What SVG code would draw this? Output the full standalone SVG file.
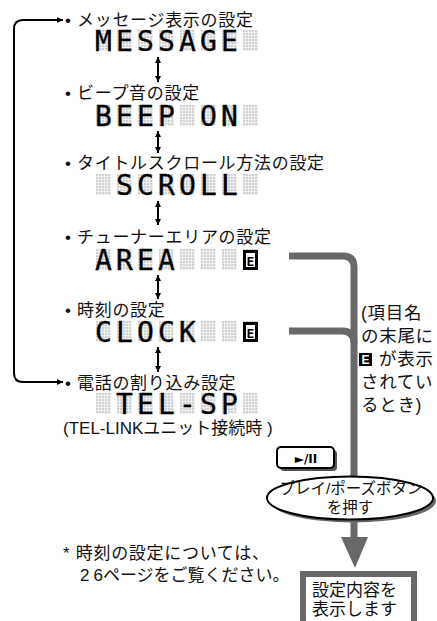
<svg xmlns="http://www.w3.org/2000/svg" width="437" height="621" viewBox="0 0 437 621">
<style>
.jp{font-family:"Liberation Sans","Noto Sans CJK JP",sans-serif;font-size:17px;fill:#111;}
.ls{letter-spacing:0.7px;}
.lcd{font-family:"DejaVu Sans Mono",monospace;font-size:28px;fill:#000;text-anchor:middle;stroke:#000;stroke-width:0.3px;}
.cell{fill:url(#px);}
.thin{stroke:#000;stroke-width:2;fill:none;}
.gray{stroke:#686868;stroke-width:7;fill:none;}
.ico{font-family:"DejaVu Sans Mono",monospace;font-weight:bold;font-size:13px;text-anchor:middle;}
</style>
<defs>
<pattern id="px" x="0" y="0" width="3" height="3" patternUnits="userSpaceOnUse">
<rect x="0" y="0" width="2.4" height="2.4" fill="#d2d2d2"/>
</pattern>
<marker id="ah" viewBox="0 0 10 10" refX="10" refY="5" markerWidth="7" markerHeight="6" markerUnits="userSpaceOnUse" orient="auto-start-reverse">
<path d="M0,0 L10,5 L0,10 Z" fill="#000"/>
</marker>
<g id="cells8">
<rect class="cell" x="96" y="0" width="15" height="21"/>
<rect class="cell" x="117" y="0" width="15" height="21"/>
<rect class="cell" x="138" y="0" width="15" height="21"/>
<rect class="cell" x="159" y="0" width="15" height="21"/>
<rect class="cell" x="180" y="0" width="15" height="21"/>
<rect class="cell" x="201" y="0" width="15" height="21"/>
<rect class="cell" x="222" y="0" width="15" height="21"/>
<rect class="cell" x="243" y="0" width="15" height="21"/>
</g>
</defs>
<rect width="437" height="621" fill="#fff"/>

<g id="connectors">
<path class="thin" d="M63,20 H23 Q14,20 14,29 V373 Q14,382 23,382 H63" marker-start="url(#ah)" marker-end="url(#ah)"/>
<line class="thin" x1="158" y1="57" x2="158" y2="82" marker-start="url(#ah)" marker-end="url(#ah)"/>
<line class="thin" x1="158" y1="131" x2="158" y2="153" marker-start="url(#ah)" marker-end="url(#ah)"/>
<line class="thin" x1="158" y1="201" x2="158" y2="225" marker-start="url(#ah)" marker-end="url(#ah)"/>
<line class="thin" x1="158" y1="275" x2="158" y2="299" marker-start="url(#ah)" marker-end="url(#ah)"/>
<line class="thin" x1="158" y1="347" x2="158" y2="372" marker-start="url(#ah)" marker-end="url(#ah)"/>
<path class="gray" d="M289,256 H343 Q354,256 354,267 V540"/>
<path class="gray" d="M289,331 H342 Q354,331 354,343"/>
<polygon points="341,537 368,537 355,568" fill="#686868"/>
</g>

<g id="n-message">
<text class="jp ls" y="26"><tspan x="65">•</tspan><tspan x="77">メッセージ表示の設定</tspan></text>
<use href="#cells8" y="30"/>
<text class="lcd" x="103.5 124.5 145.5 166.5 187.5 208.5 229.5" y="51">MESSAGE</text>
</g>

<g id="n-beep">
<text class="jp ls" y="99"><tspan x="65">•</tspan><tspan x="77">ビープ音の設定</tspan></text>
<use href="#cells8" y="105"/>
<text class="lcd" x="103.5 124.5 145.5 166.5 187.5 208.5 229.5" y="126">BEEP ON</text>
</g>

<g id="n-scroll">
<text class="jp ls" y="169"><tspan x="65">•</tspan><tspan x="77">タイトルスクロール方法の設定</tspan></text>
<use href="#cells8" y="174"/>
<text class="lcd" x="124.5 145.5 166.5 187.5 208.5 229.5" y="195">SCROLL</text>
</g>

<g id="n-area">
<text class="jp ls" y="243"><tspan x="65">•</tspan><tspan x="77">チューナーエリアの設定</tspan></text>
<use href="#cells8" y="249"/>
<text class="lcd" x="103.5 124.5 145.5 166.5" y="270">AREA</text>
<rect x="244.5" y="251.5" width="12" height="17" fill="#fff" stroke="#000" stroke-width="3"/>
<text class="ico" x="250.5" y="266">E</text>
</g>

<g id="n-clock">
<text class="jp ls" y="316"><tspan x="65">•</tspan><tspan x="77">時刻の設定</tspan></text>
<use href="#cells8" y="321"/>
<text class="lcd" x="103.5 124.5 145.5 166.5 187.5" y="342">CLOCK</text>
<rect x="244.5" y="323.5" width="12" height="17" fill="#fff" stroke="#000" stroke-width="3"/>
<text class="ico" x="250.5" y="338">E</text>
</g>

<g id="n-tel">
<text class="jp ls" y="389"><tspan x="65">•</tspan><tspan x="77">電話の割り込み設定</tspan></text>
<use href="#cells8" y="393"/>
<text class="lcd" x="124.5 145.5 166.5 187.5 208.5 229.5" y="414">TEL-SP</text>
<text class="jp" x="63" y="434">(TEL-LINKユニット接続時 )</text>
</g>

<g id="n-note">
<text class="jp ls" x="361" y="319" style="font-size:17.5px">(項目名</text>
<text class="jp ls" x="361" y="342" style="font-size:17.5px">の末尾に</text>
<rect x="359" y="353" width="13" height="13" fill="#000"/>
<text x="365.5" y="364" font-family="Liberation Sans,sans-serif" font-weight="bold" font-size="12" fill="#fff" text-anchor="middle">E</text>
<text class="jp ls" x="379" y="365" style="font-size:17.5px">が表示</text>
<text class="jp ls" x="361" y="388" style="font-size:17.5px">されてい</text>
<text class="jp ls" x="361" y="411" style="font-size:17.5px">るとき)</text>
</g>

<g id="n-button">
<rect x="280" y="450" width="57" height="21" rx="4" fill="#555"/>
<rect x="277" y="447" width="57" height="21" rx="4" fill="#fff" stroke="#000" stroke-width="2"/>
<text x="306" y="462.5" font-family="DejaVu Sans,Liberation Sans,sans-serif" font-weight="bold" font-size="12" text-anchor="middle">►/II</text>
</g>

<g id="n-press">
<ellipse cx="353" cy="501" rx="83" ry="21.5" fill="#666"/>
<ellipse cx="350" cy="498" rx="83" ry="21.5" fill="#fff" stroke="#000" stroke-width="2"/>
<text class="jp" x="351" y="494" text-anchor="middle" style="font-size:15.5px">プレイ/ポーズボタン</text>
<text class="jp" x="350" y="513" text-anchor="middle" style="font-size:15.5px">を押す</text>
</g>

<g id="n-footnote">
<text class="jp ls" x="63" y="559">* 時刻の設定については、</text>
<text class="jp" x="80" y="581">2<tspan dx="4">6</tspan>ページをご覧ください。</text>
</g>

<g id="n-display">
<rect x="303" y="574" width="111" height="60" fill="#fff" stroke="#686868" stroke-width="6"/>
<text class="jp" x="312" y="596">設定内容を</text>
<text class="jp" x="312" y="615">表示します</text>
</g>
</svg>
